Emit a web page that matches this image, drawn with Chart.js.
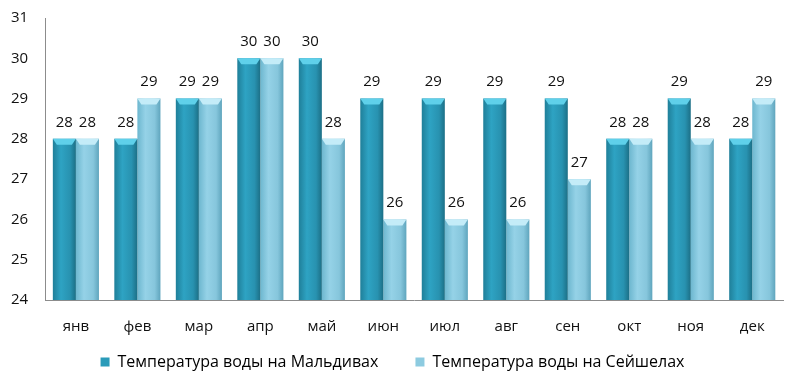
<!DOCTYPE html>
<html>
<head>
<meta charset="utf-8">
<script src="https://cdn.jsdelivr.net/npm/chart.js@4/dist/chart.umd.min.js"></script>
<style>
  html, body { margin: 0; padding: 0; background: #fff; }
  #wrap { width: 800px; height: 387px; }
</style>
</head>
<body>
<div id="wrap"><canvas id="c"></canvas></div>
<script>
const months = ['янв', 'фев', 'мар', 'апр', 'май', 'июн', 'июл', 'авг', 'сен', 'окт', 'ноя', 'дек'];
const maldives = [28, 28, 29, 30, 30, 29, 29, 29, 29, 28, 29, 28];
const seychelles = [28, 29, 29, 30, 28, 26, 26, 26, 27, 28, 28, 29];
const yTicks = [24, 25, 26, 27, 28, 29, 30, 31];

const CAT_PCT = 0.75;
const FONT = '"Open Sans", "Noto Sans", sans-serif';

// horizontal gradient across each bar, like the Excel cylinder look
function barFill(stops, side) {
  return (ctx) => {
    const chart = ctx.chart;
    const xs = chart.scales.x;
    if (!xs || ctx.dataIndex === undefined || !chart.chartArea) return stops[1];
    const catW = xs.width / months.length;
    const w = catW * CAT_PCT / 2;
    const xc = xs.getPixelForValue(ctx.dataIndex);
    const left = side === 0 ? xc - w : xc;
    const g = chart.ctx.createLinearGradient(left, 0, left + w, 0);
    g.addColorStop(0, stops[0]);
    g.addColorStop(0.35, stops[1]);
    g.addColorStop(0.75, stops[2]);
    g.addColorStop(1, stops[3]);
    return g;
  };
}

const valueLabels = {
  id: 'valueLabels',
  afterDatasetsDraw(chart) {
    const c = chart.ctx;
    c.save();
    c.font = '15px ' + FONT;
    c.fillStyle = '#111';
    c.textAlign = 'center';
    c.textBaseline = 'bottom';
    chart.data.datasets.forEach((ds, i) => {
      chart.getDatasetMeta(i).data.forEach((bar, j) => {
        c.fillText(ds.data[j], bar.x, bar.y - 9);
      });
    });
    c.restore();
  }
};

// light bevel on the top of each bar
const barTops = {
  id: 'barTops',
  afterDatasetsDraw(chart) {
    const c = chart.ctx;
    c.save();
    chart.data.datasets.forEach((ds, i) => {
      chart.getDatasetMeta(i).data.forEach((bar) => {
        const l = bar.x - bar.width / 2, r = bar.x + bar.width / 2, t = bar.y;
        c.fillStyle = i === 0 ? '#5fd0ea' : '#c4ecf8';
        c.beginPath();
        c.moveTo(l, t);
        c.lineTo(r, t);
        c.lineTo(r - 4, t + 6);
        c.lineTo(l + 4, t + 6);
        c.closePath();
        c.fill();
      });
    });
    c.restore();
  }
};

new Chart(document.getElementById('c'), {
  type: 'bar',
  data: {
    labels: months,
    datasets: [
      {
        label: 'Температура воды на Мальдивах',
        data: maldives,
        backgroundColor: barFill(['#1f7f99', '#2ea3c3', '#2892b0', '#1c6f86'], 0),
        borderWidth: 0
      },
      {
        label: 'Температура воды на Сейшелах',
        data: seychelles,
        backgroundColor: barFill(['#6db7cf', '#95d2e7', '#86c6dc', '#5fa5bd'], 1),
        borderWidth: 0
      }
    ]
  },
  options: {
    responsive: true,
    maintainAspectRatio: false,
    animation: false,
    layout: { padding: { top: 10, right: 17, left: 2, bottom: 7 } },
    categoryPercentage: CAT_PCT,
    barPercentage: 1,
    plugins: {
      tooltip: { enabled: false },
      legend: {
        position: 'bottom',
        labels: {
          color: '#111',
          font: { family: FONT, size: 16 },
          boxWidth: 9,
          boxHeight: 9,
          padding: 8,
          generateLabels(chart) {
            const fills = ['#2a9bb9', '#8dcbe0'];
            return chart.data.datasets.map((ds, i) => ({
              text: i === 0 ? ds.label + '       ' : ds.label,
              fillStyle: fills[i],
              strokeStyle: fills[i],
              lineWidth: 0,
              datasetIndex: i
            }));
          }
        }
      }
    },
    scales: {
      x: {
        grid: { display: false },
        border: { display: true, color: '#8c8c8c' },
        ticks: { color: '#111', font: { family: FONT, size: 15 }, padding: 10 }
      },
      y: {
        min: yTicks[0],
        max: yTicks[yTicks.length - 1],
        afterBuildTicks(axis) { axis.ticks = yTicks.map(v => ({ value: v })); },
        grid: { display: false },
        border: { display: true, color: '#8c8c8c' },
        ticks: { color: '#111', font: { family: FONT, size: 15 }, padding: 9 }
      }
    }
  },
  plugins: [barTops, valueLabels]
});
</script>
</body>
</html>
